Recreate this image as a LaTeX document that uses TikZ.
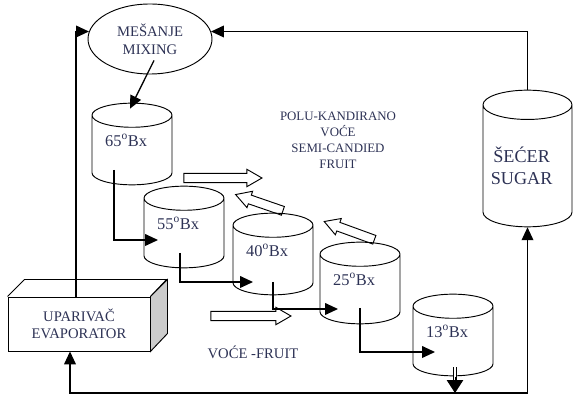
\documentclass[tikz,border=0pt]{standalone}
\usepackage{fontspec}
\setmainfont{Liberation Serif}
\usetikzlibrary{shapes.geometric,shapes.arrows,arrows.meta,calc}
\definecolor{inkblue}{RGB}{45,50,85}
\tikzset{
  tank/.style={draw,thick,cylinder,shape border rotate=90,aspect=0.45,
    anchor=shape center,minimum width=2.4cm,minimum height=2.45cm,inner sep=0pt,
    text depth=17pt,execute at end node=\hspace*{10pt},
    font=\fontsize{14}{16}\selectfont,text=inkblue},
  flow/.style={draw,thick,single arrow,single arrow head extend=3.5pt,
    single arrow tip angle=60,inner sep=3.5pt}
}
\begin{document}
\begin{tikzpicture}[x=0.03cm,y=-0.03cm,>={Triangle[length=11pt,width=10pt]},line width=1.1pt]
\useasboundingbox (0,0) rectangle (583,403);

\node[draw,thick,ellipse,minimum width=3.72cm,minimum height=2.1cm,align=center,
  font=\fontsize{12.5}{15.4}\selectfont,text=inkblue] (mix) at (150,39) {MEŠANJE\\MIXING};
\node[tank,minimum width=2.67cm,minimum height=4.1cm,aspect=0.4,text depth=0pt,
  execute at end node={},align=center,
  font=\fontsize{15.5}{19}\selectfont] (sugar) at (527.5,158.5) {ŠEĆER\\SUGAR};

\node[tank] (c65) at (132,144) {65$^{\mathrm{o}}$Bx};
\node[tank] (c55) at (184,227) {55$^{\mathrm{o}}$Bx};
\node[tank] (c40) at (273,254) {40$^{\mathrm{o}}$Bx};
\node[tank] (c25) at (360,283) {25$^{\mathrm{o}}$Bx};
\node[tank] (c13) at (453,335) {13$^{\mathrm{o}}$Bx};

% evaporator box
\node[draw,thick,fill=white,minimum width=4.26cm,minimum height=1.62cm,align=center,
  font=\fontsize{12.5}{15}\selectfont,text=inkblue] (evap) at (79,324) {UPARIVAČ\\EVAPORATOR};
\draw[thick] (evap.north west) -- ++(17,-17) -- ++(142,0) -- (evap.north east);
\filldraw[thick,fill=gray!40] (evap.north east) -- ++(17,-17) -- ++(0,54) -- (evap.south east) -- cycle;

\node[align=center,font=\fontsize{11}{13.7}\selectfont,text=inkblue] (semi) at (338,140)
  {POLU-KANDIRANO\\VOĆE\\SEMI-CANDIED\\FRUIT};
\node[font=\fontsize{12.5}{15}\selectfont,text=inkblue] (fruit) at (253,352) {VOĆE -FRUIT};

% hollow arrows
\node[flow,minimum height=2.34cm] (f1) at (219,178) {};
\node[flow,minimum height=1.5cm,rotate=161] (f2) at (263,204) {};
\node[flow,minimum height=1.6cm,rotate=160] (f3) at (353,232) {};
\node[flow,minimum height=2.4cm] (f4) at (247,316) {};

\draw[->] ($(mix.south)+(4,-14)$) -- ($(c65.north)+(-2,6)$);
\draw[->] ($(c65.shape center)+(-18,26)$) |- ($(c55.shape center)+(-26,13)$);
\draw[->] ($(c55.shape center)+(-4,26)$) |- ($(c40.shape center)+(-20,28)$);
\draw[->] ($(c40.shape center)+(0,28)$) |- ($(c25.shape center)+(-22,26)$);
\draw[->] ($(c25.shape center)+(0,25)$) |- ($(c13.shape center)+(-18,17)$);

% recycle lines
\coordinate (drain) at (455,393);
\draw[double,double distance=1.8pt,line width=0.8pt] ($(c13.south)+(2,-9)$) -- ($(drain)+(0,-11)$);
\draw[-{Triangle[length=11pt,width=14pt]},line width=0.8pt] ($(drain)+(0,-16)$) -- (drain);
\draw[->] (drain) -| ($(evap.south)+(-9,0)$);
\draw[->] (drain) -| (sugar.south);
\draw[->] ($(evap.north)+(-3,0)$) |- (mix.173);
\draw[->] (sugar.north) |- (mix.7);
\end{tikzpicture}
\end{document}
